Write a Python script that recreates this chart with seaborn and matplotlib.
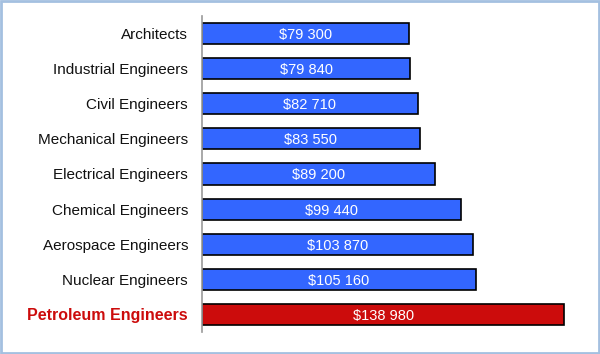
import pandas as pd
import seaborn as sns
import matplotlib.pyplot as plt
from matplotlib.patches import Rectangle

jobs = ['Architects', 'Industrial Engineers', 'Civil Engineers', 'Mechanical Engineers',
        'Electrical Engineers', 'Chemical Engineers', 'Aerospace Engineers',
        'Nuclear Engineers', 'Petroleum Engineers']
salary = [79300, 79840, 82710, 83550, 89200, 99440, 103870, 105160, 138980]

df = pd.DataFrame({'job': jobs, 'salary': salary})
renk = ['#3366FF'] * 8 + ['#CC0C0C']

sns.set_style('white')
plt.rcParams['font.family'] = ['Liberation Sans', 'DejaVu Sans']

fig = plt.figure(figsize=(6, 3.54), dpi=100)
ax = fig.add_axes([202/600, 1 - 332/354, 391/600, 316/354])
sns.barplot(data=df, x='salary', y='job', hue='job', palette=renk, legend=False,
            width=0.6, edgecolor='black', linewidth=1.2, saturation=1, ax=ax)

for i, v in enumerate(salary):
    etiket = '$' + f'{v:,}'.replace(',', ' ')
    ax.text(v / 2, i, etiket, color='white', ha='center', va='center_baseline', fontsize=10.5)

ax.set_xlim(0, 150000)
ax.set_ylim(8.5, -0.5)
ax.set_xlabel('')
ax.set_ylabel('')
ax.set_xticks([])
ax.tick_params(axis='y', length=0, pad=10, labelsize=11, labelcolor='#111111')
for s in ['top', 'right', 'bottom']:
    ax.spines[s].set_visible(False)
ax.spines['left'].set_color('#999999')
ax.spines['left'].set_linewidth(1.2)

son = ax.get_yticklabels()[-1]
son.set_color('#CC0C0C')
son.set_fontweight('bold')
son.set_fontsize(11.5)

fig.patches.append(Rectangle((0.002, 0.003), 0.996, 0.994, transform=fig.transFigure,
                             fill=False, edgecolor='#A4C0E0', linewidth=2))
fig.savefig('out.png', dpi=100)
